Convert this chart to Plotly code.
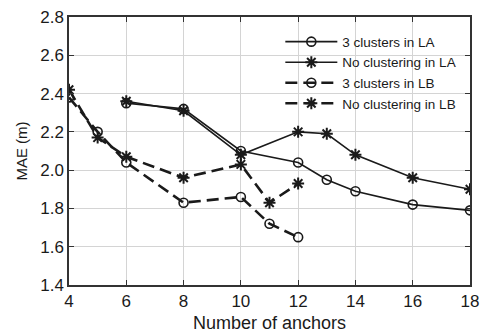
import plotly.graph_objects as go

# Mean absolute error versus number of anchors, two layouts (LA, LB)
anchors_la = [6, 8, 10, 12, 13, 14, 16, 18]
mae_la_clustered = [2.35, 2.32, 2.10, 2.04, 1.95, 1.89, 1.82, 1.79]
mae_la_plain = [2.36, 2.31, 2.08, 2.20, 2.19, 2.08, 1.96, 1.90]

anchors_lb = [4, 5, 6, 8, 10, 11, 12]
mae_lb_clustered = [2.38, 2.20, 2.04, 1.83, 1.86, 1.72, 1.65]
mae_lb_plain = [2.42, 2.17, 2.07, 1.96, 2.03, 1.83, 1.93]

x_ticks = [4, 6, 8, 10, 12, 14, 16, 18]
y_ticks = [1.4, 1.6, 1.8, 2.0, 2.2, 2.4, 2.6, 2.8]

FONT = "Liberation Sans, Arial, sans-serif"
INK = "#1a1a1a"

circle = dict(symbol="circle-open", size=9, color=INK, line=dict(width=1.6, color=INK))
star = dict(symbol="asterisk-open", size=10, color=INK, line=dict(width=2, color=INK))
dashed = dict(color=INK, width=2.6, dash="12px,6px")

fig = go.Figure()
fig.add_trace(go.Scatter(x=anchors_la, y=mae_la_clustered, mode="lines+markers",
                         name="3 clusters in LA",
                         line=dict(color=INK, width=1.6), marker=circle))
fig.add_trace(go.Scatter(x=anchors_la, y=mae_la_plain, mode="lines+markers",
                         name="No clustering in LA",
                         line=dict(color=INK, width=1.6), marker=star))
fig.add_trace(go.Scatter(x=anchors_lb, y=mae_lb_clustered, mode="lines+markers",
                         name="3 clusters in LB", line=dashed, marker=circle))
fig.add_trace(go.Scatter(x=anchors_lb, y=mae_lb_plain, mode="lines+markers",
                         name="No clustering in LB", line=dashed, marker=star))

axis_common = dict(
    showline=True, linecolor="#333333", linewidth=1.5, mirror="ticks",
    ticks="inside", ticklen=5, tickcolor="#333333", tickwidth=1.2,
    showgrid=True, gridcolor="#d4d4d4", gridwidth=1.2, zeroline=False,
    tickfont=dict(family=FONT, size=17, color=INK), automargin=False,
)

fig.update_xaxes(range=[4, 18], tickvals=x_ticks, ticktext=[str(v) for v in x_ticks],
                 title=dict(text="Number of anchors", font=dict(family=FONT, size=18, color=INK),
                            standoff=6),
                 **axis_common)
fig.update_yaxes(range=[1.4, 2.8], tickvals=y_ticks, ticktext=[f"{v:.1f}" for v in y_ticks],
                 title=dict(text="MAE (m)", font=dict(family=FONT, size=15, color=INK),
                            standoff=9),
                 **axis_common)

fig.update_layout(
    width=484, height=336,
    margin=dict(l=69, r=14, t=17, b=51),
    paper_bgcolor="white", plot_bgcolor="white",
    showlegend=True,
    legend=dict(x=0.527, y=0.965, xanchor="left", yanchor="top",
                bgcolor="rgba(0,0,0,0)", borderwidth=0,
                font=dict(family=FONT, size=13.5, color=INK),
                itemwidth=52, tracegroupgap=0),
)

fig.write_html("out.html")
